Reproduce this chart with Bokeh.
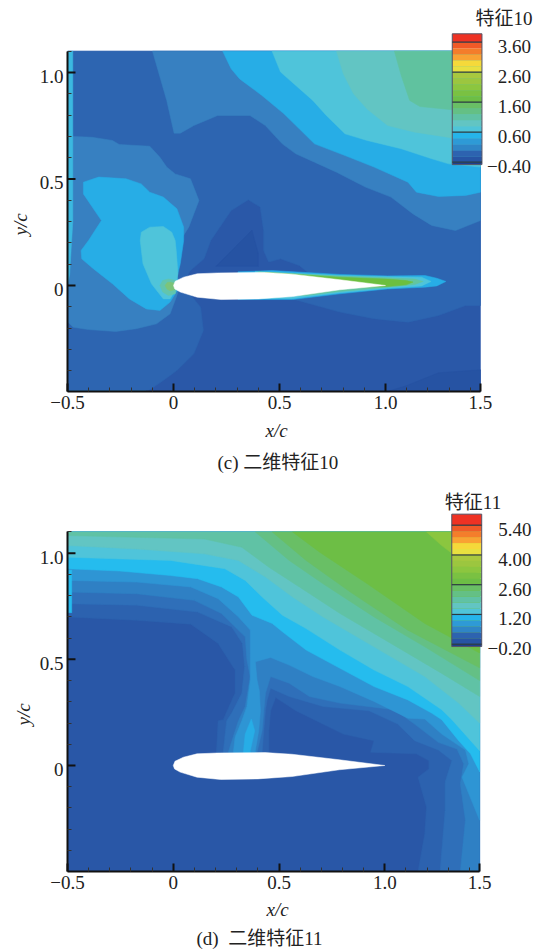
from bokeh.embed import file_html
from bokeh.resources import INLINE
from bokeh.layouts import column
from bokeh.models import FixedTicker, LinearAxis, Range1d, Title
from bokeh.plotting import figure
from bokeh.core.properties import value

FONT = "'Liberation Serif','Noto Sans CJK SC',serif"
TXT = "#222222"

# ---- shared ----
x_major_ticks = [-0.5, 0, 0.5, 1.0, 1.448]
x_major_labels = ["\u22120.5", "0", "0.5", "1.0", "1.5"]
y_major_ticks = [0, 0.5, 1.0]
y_major_labels = ["0", "0.5", "1.0"]
x_minor = [-0.4, -0.3, -0.2, -0.1, 0.1, 0.2, 0.3, 0.4, 0.6, 0.7, 0.8, 0.9, 1.1, 1.2, 1.3, 1.4]
y_minor = [-0.4, -0.3, -0.2, -0.1, 0.1, 0.2, 0.3, 0.4, 0.6, 0.7, 0.8, 0.9, 1.1]
domain_full = [(-0.5, -0.5), (1.448, -0.5), (1.448, 1.1), (-0.5, 1.1)]
airfoil = [(0, 0), (0.008, 0.02), (0.048, 0.039), (0.112, 0.055), (0.208, 0.059), (0.433, 0.061),
           (0.561, 0.053), (0.785, 0.027), (1.0, 0), (0.785, -0.02), (0.561, -0.052), (0.40, -0.063),
           (0.224, -0.066), (0.112, -0.055), (0.032, -0.031), (0.006, -0.016)]
cbar_colors = ["#1F3E8E", "#2754A4", "#2D63B0", "#2F85C6", "#2E9AD6", "#26B4EA",
               "#50C4D8", "#62C5C3", "#60C2A5", "#64C085", "#69BF65",
               "#6DBE45", "#7AC142", "#8CC63F", "#9CC63F", "#A8C83F",
               "#E8E040", "#F5D93A", "#F9A233", "#F47D2B", "#F05A28", "#EE3224"]

# ---- panel (c): feature 10 ----
c_levels = [-0.48, -0.4, -0.2, 0.0, 0.2, 0.4, 0.6, 0.8, 1.0, 1.2, 1.4, 1.6, 1.8, 2.0, 2.2, 2.4, 2.6,
            2.8, 3.0, 3.2, 3.4, 3.6, 3.88]
c_ticks = [-0.4, 0.6, 1.6, 2.6, 3.6]
c_tick_labels = ["\u22120.40", "0.60", "1.60", "2.60", "3.60"]
c_lowright = [(1.448, -0.5), (1.448, -0.396), (1.25, -0.41), (1.1, -0.47), (1.0, -0.5)]
c_wedge = [(0.2, 0.09), (0.37, 0.26), (0.40, 0.15), (0.40, 0.09)]
c_band1 = [(-0.128, -0.5), (-0.048, -0.446), (0.016, -0.399), (0.096, -0.321), (0.141, -0.211), (0.128, -0.102),
           (0.064, -0.023), (0.05, 0.02), (0.08, 0.07), (0.144, 0.125), (0.176, 0.211), (0.272, 0.352),
           (0.353, 0.402), (0.409, 0.368), (0.425, 0.258), (0.425, 0.164), (0.449, 0.110), (0.505, 0.125),
           (0.593, 0.094), (0.641, 0.055), (0.641, 0.03), (0.56, -0.03), (0.561, -0.063), (0.785, -0.125),
           (0.946, -0.156), (1.106, -0.172), (1.25, -0.141), (1.378, -0.094), (1.448, -0.094),
           (1.448, 1.1), (-0.5, 1.1), (-0.5, -0.5)]
c_band2_top = [(-0.099, 1.1), (-0.032, 0.869), (0.003, 0.715), (0.032, 0.715), (0.096, 0.751), (0.208, 0.798),
               (0.361, 0.798), (0.433, 0.751), (0.513, 0.665), (0.577, 0.618), (0.665, 0.579), (0.769, 0.532),
               (0.905, 0.462), (1.026, 0.415), (1.13, 0.336), (1.218, 0.282), (1.33, 0.258), (1.448, 0.305),
               (1.448, 1.1)]
c_band2_left = [(-0.5, 0.701), (-0.385, 0.696), (-0.288, 0.681), (-0.256, 0.662), (-0.112, 0.654), (-0.064, 0.602),
                (-0.032, 0.556), (0.008, 0.524), (0.08, 0.501), (0.12, 0.399), (0.072, 0.274), (0.032, 0.211),
                (0.016, 0.055), (0.03, 0), (0.016, -0.047), (-0.016, -0.133), (-0.08, -0.18), (-0.176, -0.203),
                (-0.272, -0.216), (-0.401, -0.207), (-0.473, -0.196), (-0.5, -0.17)]
c_band3_top = [(0.232, 1.1), (0.272, 1.017), (0.312, 0.970), (0.417, 0.892), (0.521, 0.806), (0.593, 0.736),
               (0.665, 0.665), (0.809, 0.610), (0.946, 0.556), (1.106, 0.485), (1.146, 0.438), (1.25, 0.418),
               (1.378, 0.423), (1.448, 0.438), (1.448, 1.1)]
c_band3_left = [(-0.425, 0.485), (-0.353, 0.509), (-0.224, 0.501), (-0.152, 0.477), (-0.112, 0.438), (-0.048, 0.415),
                (0.016, 0.360), (0.048, 0.274), (0.048, 0.211), (0.032, 0.102), (0.016, 0.039), (0.03, 0),
                (0.008, -0.039), (-0.016, -0.078), (-0.064, -0.117), (-0.128, -0.110), (-0.208, -0.063),
                (-0.288, 0.008), (-0.377, 0.078), (-0.433, 0.125), (-0.436, 0.164), (-0.401, 0.211),
                (-0.340, 0.305), (-0.425, 0.430)]
c_band4_top = [(0.465, 1.1), (0.505, 1.002), (0.577, 0.939), (0.657, 0.869), (0.721, 0.798), (0.809, 0.712),
               (0.913, 0.681), (1.074, 0.642), (1.218, 0.595), (1.298, 0.571), (1.448, 0.556), (1.448, 1.1)]
c_band4_left = [(-0.152, 0.25), (-0.112, 0.274), (-0.048, 0.277), (-0.008, 0.25), (0.008, 0.211), (0.013, 0.164),
                (0.021, 0.055), (0.008, -0.023), (-0.016, -0.063), (-0.048, -0.063), (-0.104, 0.008),
                (-0.144, 0.102), (-0.157, 0.211)]
c_band5 = [(0.769, 1.1), (0.801, 0.994), (0.849, 0.900), (0.913, 0.829), (1.01, 0.751), (1.138, 0.72),
           (1.314, 0.693), (1.448, 0.67), (1.448, 1.1)]
c_band6 = [(1.042, 1.1), (1.074, 0.986), (1.114, 0.869), (1.162, 0.84), (1.314, 0.825), (1.448, 0.82), (1.448, 1.1)]
c_strip = [(-0.5, 1.1), (-0.475, 1.1), (-0.475, 0.3), (-0.49, 0.05), (-0.5, 0)]
c_bottom_strip = [(-0.5, -0.5), (-0.13, -0.5), (-0.13, -0.495), (-0.5, -0.495)]
c_wake1 = [(0.304, 0.064), (0.465, 0.07), (0.785, 0.052), (1.01, 0.045), (1.186, 0.047), (1.242, 0.034), (1.285, 0.019),
           (1.242, -0.002), (1.186, -0.008), (1.01, -0.016), (0.785, -0.039), (0.561, -0.066), (0.304, -0.066)]
c_wake2 = [(0.385, 0.066), (0.785, 0.047), (1.01, 0.041), (1.17, 0.039), (1.215, 0.019), (1.17, -0.002),
           (1.01, -0.013), (0.785, -0.034), (0.561, -0.061), (0.385, -0.061)]
c_wake3 = [(0.40, 0.064), (0.785, 0.044), (1.01, 0.036), (1.138, 0.03), (1.178, 0.019), (1.138, 0.005),
           (1.01, -0.008), (0.785, -0.028), (0.625, -0.047), (0.40, -0.047)]
c_wake4 = [(0.433, 0.061), (0.785, 0.039), (1.01, 0.03), (1.098, 0.023), (1.13, 0.016), (1.098, 0.003),
           (1.01, -0.005), (0.865, -0.008), (0.433, -0.008)]
c_nose1 = [(-0.064, 0), (-0.051, 0.023), (-0.024, 0.031), (0.008, 0.023), (0.016, -0.005), (0.008, -0.039),
           (-0.024, -0.047), (-0.051, -0.031)]
c_nose2 = [(-0.04, 0), (-0.03, 0.014), (-0.015, 0.016), (0.005, 0.01), (0.005, -0.02), (-0.015, -0.025), (-0.03, -0.018)]
c_layers = [(domain_full, "#2A58A8"), (c_lowright, "#2653A3"), (c_wedge, "#2653A3"), (c_band1, "#2D65B1"),
            (c_band2_top, "#3780C1"), (c_band2_left, "#3780C1"), (c_band3_top, "#27ADE6"), (c_band3_left, "#27ADE6"),
            (c_band4_top, "#4FC4DA"), (c_band4_left, "#4FC4DA"), (c_band5, "#62C5C3"), (c_band6, "#60C29F"),
            (c_strip, "#3BB8E0"), (c_bottom_strip, "#2AA0D8"), (c_wake1, "#27ADE6"), (c_wake2, "#4FC4DA"),
            (c_wake3, "#62C5A0"), (c_wake4, "#6CBF3F"), (c_nose1, "#62C5AD"), (c_nose2, "#7CC47A"), (airfoil, "#FFFFFF")]

# ---- panel (d): feature 11 ----
d_levels = [-0.31, -0.2, 0.08, 0.36, 0.64, 0.92, 1.2, 1.48, 1.76, 2.04, 2.32, 2.6, 2.88, 3.16, 3.44, 3.72, 4.0,
            4.28, 4.56, 4.84, 5.12, 5.4, 5.92]
d_ticks = [-0.2, 1.2, 2.6, 4.0, 5.4]
d_tick_labels = ["\u22120.20", "1.20", "2.60", "4.00", "5.40"]
d_band_e = [(-0.5, 0.70), (-0.173, 0.684), (0.083, 0.666), (0.212, 0.575), (0.292, 0.45), (0.292, 0.341), (0.236, 0.216),
            (0.212, 0.211), (0.204, 0.0625), (0.204, 0.04), (0.452, 0.04), (0.452, 0.0625), (0.452, 0.164), (0.46, 0.258),
            (0.484, 0.32), (0.58, 0.258), (0.676, 0.211), (0.804, 0.148), (0.949, 0.117), (0.933, 0.0625), (1.149, 0.055),
            (1.208, 0.023), (1.208, -0.016), (1.157, -0.055), (1.197, -0.195), (1.189, -0.32), (1.157, -0.5),
            (1.448, -0.5), (1.448, 1.1), (-0.5, 1.1)]
d_band_d = [(-0.5, 0.762), (-0.173, 0.755), (0.115, 0.723), (0.276, 0.653), (0.327, 0.575), (0.337, 0.466), (0.324, 0.341),
            (0.276, 0.247), (0.252, 0.211), (0.236, 0.0625), (0.236, 0.04), (0.42, 0.04), (0.42, 0.0625), (0.428, 0.164),
            (0.436, 0.258), (0.444, 0.309), (0.46, 0.364), (0.548, 0.325), (0.708, 0.278), (0.925, 0.258), (1.061, 0.195),
            (1.141, 0.117), (1.253, 0.073), (1.317, 0.023), (1.285, -0.078), (1.285, -0.211), (1.261, -0.5),
            (1.448, -0.5), (1.448, 1.1), (-0.5, 1.1)]
d_band_c = [(-0.5, 0.817), (-0.173, 0.809), (0.099, 0.778), (0.228, 0.716), (0.340, 0.606), (0.348, 0.497), (0.364, 0.419),
            (0.340, 0.278), (0.308, 0.211), (0.26, 0.0625), (0.26, 0.04), (0.396, 0.04), (0.396, 0.0625), (0.42, 0.164),
            (0.428, 0.258), (0.436, 0.341), (0.46, 0.419), (0.548, 0.388), (0.644, 0.325), (0.788, 0.294), (1.045, 0.263),
            (1.141, 0.195), (1.253, 0.109), (1.341, 0.078), (1.373, 0.008), (1.357, -0.086), (1.381, -0.258), (1.357, -0.5),
            (1.448, -0.5), (1.448, 1.1), (-0.5, 1.1)]
d_band_b = [(-0.5, 0.872), (-0.173, 0.864), (0.083, 0.841), (0.212, 0.786), (0.308, 0.70), (0.364, 0.638), (0.364, 0.528),
            (0.364, 0.403), (0.348, 0.278), (0.324, 0.211), (0.292, 0.133), (0.284, 0.0625), (0.284, 0.04), (0.388, 0.04),
            (0.388, 0.07), (0.404, 0.164), (0.412, 0.258), (0.407, 0.352), (0.396, 0.403), (0.388, 0.489), (0.460, 0.509),
            (0.548, 0.473), (0.660, 0.419), (0.788, 0.372), (0.949, 0.302), (1.109, 0.223), (1.189, 0.219), (1.269, 0.148),
            (1.381, 0.073), (1.397, 0.008), (1.365, -0.055), (1.448, -0.258), (1.448, 1.1), (-0.5, 1.1)]
d_band_a = [(-0.5, 0.927), (-0.253, 0.916), (-0.013, 0.895), (0.115, 0.880), (0.228, 0.841), (0.308, 0.794), (0.372, 0.708),
            (0.468, 0.669), (0.516, 0.630), (0.628, 0.544), (0.788, 0.458), (0.949, 0.372), (1.109, 0.309), (1.221, 0.247),
            (1.269, 0.216), (1.349, 0.117), (1.405, 0.055), (1.445, -0.023), (1.448, -0.03), (1.448, 1.1), (-0.5, 1.1)]
d_band_f = [(-0.5, 0.981), (-0.013, 0.966), (0.244, 0.927), (0.34, 0.872), (0.42, 0.794), (0.516, 0.708), (0.628, 0.645),
            (0.788, 0.544), (0.949, 0.45), (1.109, 0.372), (1.269, 0.263), (1.317, 0.216), (1.448, 0.07), (1.448, 1.1), (-0.5, 1.1)]
d_band_g = [(-0.5, 1.036), (-0.173, 1.02), (0.147, 0.997), (0.308, 0.966), (0.436, 0.888), (0.564, 0.794), (0.708, 0.70),
            (0.949, 0.559), (1.189, 0.419), (1.349, 0.294), (1.448, 0.2), (1.448, 1.1), (-0.5, 1.1)]
d_band_h = [(-0.5, 1.083), (0.147, 1.067), (0.324, 1.028), (0.452, 0.934), (0.596, 0.841), (0.788, 0.716), (1.029, 0.575),
            (1.269, 0.434), (1.448, 0.325), (1.448, 1.1), (-0.5, 1.1)]
d_band_i = [(0.388, 1.1), (0.548, 0.966), (0.708, 0.856), (0.949, 0.70), (1.189, 0.559), (1.448, 0.40), (1.448, 1.1)]
d_band_j0 = [(0.468, 1.1), (0.628, 0.966), (0.837, 0.817), (1.109, 0.6375), (1.448, 0.46), (1.448, 1.1)]
d_band_j = [(0.564, 1.1), (0.692, 1.005), (0.917, 0.856), (1.189, 0.669), (1.448, 0.53), (1.448, 1.1)]
d_band_k = [(1.197, 1.1), (1.269, 1.036), (1.448, 0.9), (1.448, 1.1)]
d_blob = [(0.332, 0.05), (0.332, 0.07), (0.34, 0.148), (0.369, 0.219), (0.385, 0.164), (0.364, 0.07), (0.364, 0.05)]
d_sliver = [(-0.495, 0.92), (-0.48, 0.92), (-0.48, 0.72), (-0.495, 0.72)]
d_layers = [(domain_full, "#2957A7"), (d_band_e, "#2C62AF"), (d_band_d, "#2F6FB9"), (d_band_c, "#2F80C4"),
            (d_band_b, "#2E95D4"), (d_band_a, "#25BCEE"), (d_band_f, "#4FC4DA"), (d_band_g, "#62C5C3"),
            (d_band_h, "#60C2A5"), (d_band_i, "#64C085"), (d_band_j0, "#69BF65"), (d_band_j, "#6DBE45"),
            (d_band_k, "#8BC63F"), (d_blob, "#27ADE6"), (d_sliver, "#25BCEE"), (airfoil, "#FFFFFF")]


def panel(layers, levels, ticks, tick_labels, name, caption, height, left, bottom, y0, y1, bar_range,
          bar_x, name_pos, label_right, xlab_offset, xlab_standoff, ylab_offset, ylab_standoff, cap_offset, cap_standoff):
    width = 533
    x_end = -0.5 + (width - left) / 212.0
    p = figure(width=width, height=height, x_range=Range1d(-0.5, x_end), y_range=Range1d(y0, y1),
               output_backend="svg", toolbar_location=None, min_border_left=left, min_border_right=0,
               min_border_top=0, min_border_bottom=bottom, outline_line_color=None,
               background_fill_color="white", border_fill_color="white")
    p.grid.visible = False
    label_shift = 4 / 213.0
    p.extra_y_ranges = {"bar": Range1d(*bar_range), "lab": Range1d(y0 + label_shift, y1 + label_shift)}

    p.patches([[pt[0] for pt in poly] for poly, _ in layers], [[pt[1] for pt in poly] for poly, _ in layers],
              fill_color=[c for _, c in layers], line_color=[c for _, c in layers], line_width=0.5)

    # colour bar, drawn through its own value scale
    p.quad(left=bar_x[0], right=bar_x[1], bottom=levels[:-1], top=levels[1:], y_range_name="bar",
           fill_color=cbar_colors, line_color=None)
    p.quad(left=bar_x[0], right=bar_x[1], bottom=levels[0], top=levels[-1], y_range_name="bar",
           fill_color=None, line_color="#555566", line_width=1)
    p.segment(x0=bar_x[0], x1=bar_x[1], y0=ticks, y1=ticks, y_range_name="bar", line_color="#2b3a40", line_width=1.2)
    p.text(x=label_right, y=ticks, text=tick_labels, y_range_name="bar", text_align="right", text_baseline="middle",
           y_offset=4.5, text_font=value(FONT), text_font_size="19px", text_color=TXT)
    p.text(x=[name_pos[0]], y=[name_pos[1]], text=[name], text_align="right", text_baseline="middle",
           text_font=value(FONT), text_font_size="19px", text_color=TXT)

    for ax, ticks_, labs, mn, bnds in ((p.xaxis[0], x_major_ticks, x_major_labels, x_minor, (-0.5, 1.448)),
                                       (p.yaxis[0], [], [], y_minor, (-0.5, 1.1))):
        ax.ticker = FixedTicker(ticks=ticks_, minor_ticks=mn)
        ax.major_label_overrides = dict(zip(ticks_, labs))
        ax.bounds = bnds
        ax.axis_line_color = "#111111"
        ax.axis_line_width = 2
        ax.major_tick_in = 8
        ax.major_tick_out = 0
        ax.major_tick_line_color = "#111111"
        ax.major_tick_line_width = 2
        ax.minor_tick_in = 4
        ax.minor_tick_out = 0
        ax.minor_tick_line_color = "#333333"
        ax.minor_tick_line_width = 1
        ax.major_label_text_font = FONT
        ax.major_label_text_font_size = "19px"
        ax.major_label_text_color = TXT
        ax.major_label_standoff = 4
    p.yaxis[0].major_label_standoff = 0

    # y major ticks, with their labels on a companion axis set slightly lower (as in the reference)
    p.segment(x0=-0.5, x1=-0.5 + 8 / 212.0, y0=y_major_ticks, y1=y_major_ticks, line_color="#111111", line_width=2)
    lab = LinearAxis(y_range_name="lab", ticker=FixedTicker(ticks=y_major_ticks),
                     major_label_overrides=dict(zip(y_major_ticks, y_major_labels)),
                     bounds=(-0.5, 1.1), axis_line_color=None, major_tick_line_color=None,
                     minor_tick_line_color=None, major_tick_in=0, major_tick_out=0,
                     major_label_standoff=4, major_label_text_font=FONT, major_label_text_font_size="19px",
                     major_label_text_color=TXT)
    p.add_layout(lab, "left")

    for side, txt, off, stand, style in (("left", "y/c", ylab_offset, ylab_standoff, "italic"),
                                         ("below", "x/c", xlab_offset, xlab_standoff, "italic"),
                                         ("below", caption, cap_offset, cap_standoff, "normal")):
        p.add_layout(Title(text=txt, align="left", offset=off, standoff=stand, text_font=FONT,
                           text_font_size="19px", text_font_style=style, text_color=TXT), side)
    return p


pc = panel(c_layers, c_levels, c_ticks, c_tick_labels, "特征10", "(c) 二维特征10", 478, 67, 87,
           -0.4977, 1.338, (-8.043, 4.99), (1.315, 1.455), (1.693, 1.2535), 1.686, 198, 12, 156, 11, 150, 7)
pd_ = panel(d_layers, d_levels, d_ticks, d_tick_labels, "特征11", "(d)\u00a0\u00a0二维特征11", 472, 66, 79,
            -0.4993, 1.352, (-10.897, 7.598), (1.3165, 1.458), (1.55, 1.24), 1.693, 199, 11, 146, 5, 129, 0)

page = column(pc, pd_, spacing=0)
open("out.html", "w").write(file_html(page, INLINE))
